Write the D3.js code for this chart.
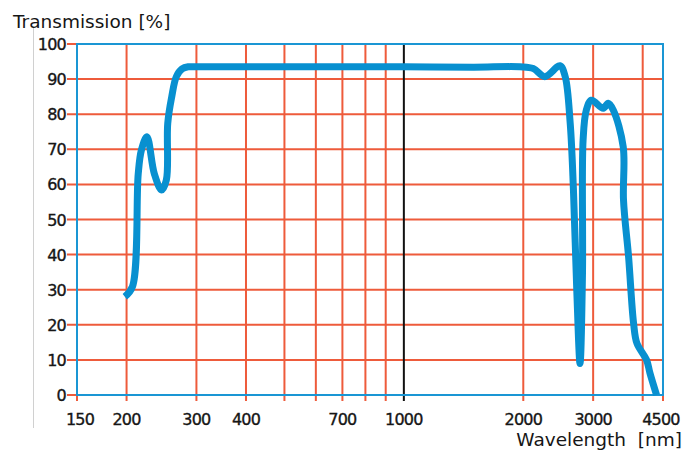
<!DOCTYPE html>
<html><head><meta charset="utf-8">
<script src="https://cdn.jsdelivr.net/npm/d3@7"></script>
<style>body{margin:0;background:#fff}svg{display:block}</style>
</head><body>
<script>
// Data
const wavelength = [198,207,214,218,225,235,245,252,254,260,267,276,286,300,340,400,700,1000,1500,1962,2120,2266,2475,2551,2626,2676,2728,2780,2820,2830,2884,2970,3180,3274,3371,3572,3578,3685,3794,3869,4090,4173,4335];
const transmission = [28,30.9,63,69.8,73.6,63,58.4,61.3,77.4,85,90.7,92.9,93.5,93.5,93.5,93.5,93.5,93.5,93.4,93.5,93,90.7,93.8,90.7,77.4,58.4,29.9,9,34.7,72.6,81.2,84,81.7,83.1,81.2,70.7,55.6,39.4,20.4,14.7,10,6.2,0];
const xTickLabels = [150,200,300,400,700,1000,2000,3000,4500];
const xGrid = [150,200,300,400,500,600,700,800,900,2000,3000,4000,4500];
const yTicks = [0,10,20,30,40,50,60,70,80,90,100];

const W=686,H=450;
const L=77,R=663,T=44,B=395;
const svg=d3.select("body").append("svg").attr("width",W).attr("height",H);
const x=d3.scaleLog().domain([150,4500]).range([L,R]);
const y=d3.scaleLinear().domain([0,100]).range([B,T]);
const red="#ee5b3b", blue="#1a96d4", curveBlue="#0890d0";
const font="DejaVu Sans";
const ink="#161616";

// light gray side line
svg.append("line").attr("x1",33.5).attr("x2",33.5).attr("y1",28).attr("y2",428).attr("stroke","#d0d0d0").attr("stroke-width",1);

// horizontal grid
svg.append("g").selectAll("line").data(yTicks).join("line")
  .attr("x1",L-10).attr("x2",R).attr("y1",d=>y(d)).attr("y2",d=>y(d))
  .attr("stroke",red).attr("stroke-width",2);
// vertical grid
svg.append("g").selectAll("line").data(xGrid).join("line")
  .attr("x1",d=>x(d)).attr("x2",d=>x(d)).attr("y1",T).attr("y2",B+6)
  .attr("stroke",red).attr("stroke-width",2);
// black 1000 line
svg.append("line").attr("x1",x(1000)).attr("x2",x(1000)).attr("y1",T).attr("y2",B+6)
  .attr("stroke","#111").attr("stroke-width",2);
// frame
svg.append("rect").attr("x",L).attr("y",T).attr("width",R-L).attr("height",B-T)
  .attr("fill","none").attr("stroke",blue).attr("stroke-width",2);

// y labels
svg.append("g").selectAll("text").data(yTicks).join("text")
  .attr("x",66).attr("y",d=>y(d)+6).attr("text-anchor","end")
  .attr("font-family",font).attr("font-size",16).attr("fill",ink).attr("stroke",ink).attr("stroke-width",0.35).attr("letter-spacing",-0.8)
  .text(d=>d);
// x labels
svg.append("g").selectAll("text").data(xTickLabels).join("text")
  .attr("x",d=>x(d)+(d===150?3:(d===4500?-2:0))).attr("y",425).attr("text-anchor","middle")
  .attr("font-family",font).attr("font-size",16).attr("fill",ink).attr("stroke",ink).attr("stroke-width",0.35).attr("letter-spacing",-0.8)
  .text(d=>d);

// titles
svg.append("text").attr("x",13).attr("y",28).attr("font-family",font).attr("font-size",18.5).attr("fill",ink).text("Transmission [%]");
svg.append("text").attr("x",682).attr("y",446).attr("text-anchor","end").attr("font-family",font).attr("font-size",18.5).attr("fill",ink).style("white-space","pre").text("Wavelength  [nm]");

// curve
const pts=wavelength.map((w,i)=>[w,transmission[i]]);
const line=d3.line().x(d=>x(d[0])).y(d=>y(d[1])).curve(d3.curveCatmullRom.alpha(0.5));
svg.append("path").datum(pts).attr("d",line).attr("fill","none")
  .attr("stroke",curveBlue).attr("stroke-width",7).attr("stroke-linejoin","round").attr("stroke-linecap","butt");
</script>
</body></html>
